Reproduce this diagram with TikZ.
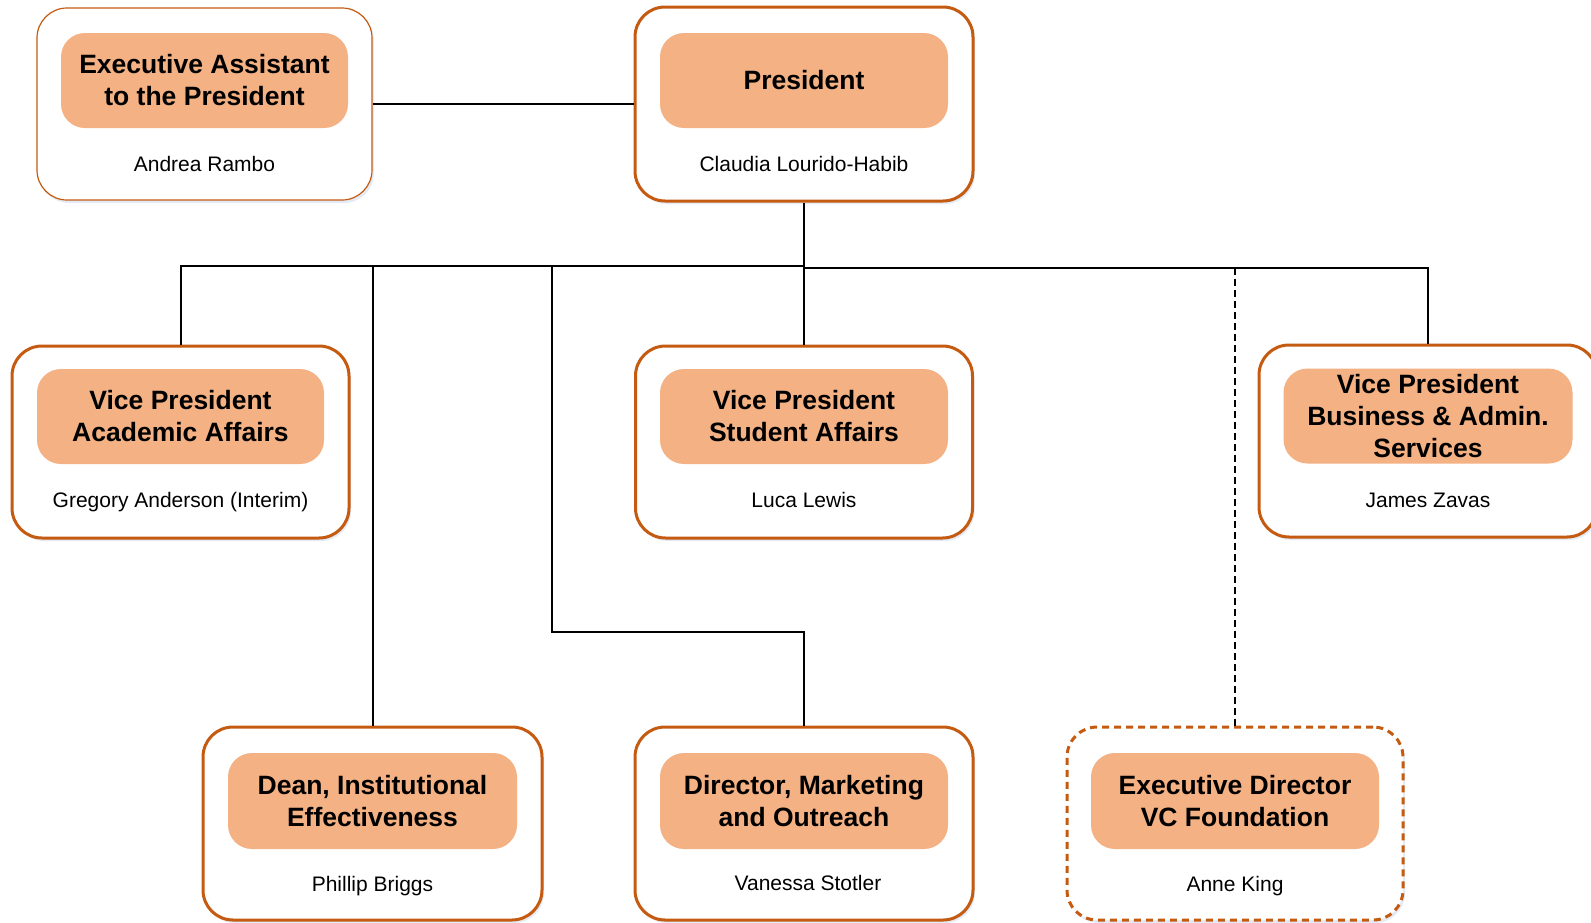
\documentclass[tikz,border=0pt]{standalone}
\usepackage{fontspec}
\setmainfont{Liberation Sans}
\usetikzlibrary{shadows}
\definecolor{orgline}{HTML}{C55A11}
\definecolor{orgfill}{HTML}{F4B183}
\definecolor{shadowc}{HTML}{D9E2F0}
\begin{document}
\begin{tikzpicture}[x=1pt,y=-1pt,
  outerbox/.style={draw=orgline, line width=3pt, rounded corners=30pt, fill=white,
    minimum width=337pt, minimum height=192pt, inner sep=0pt,
    drop shadow={shadow xshift=2pt, shadow yshift=-3pt, fill=shadowc, opacity=0.7}},
  thinbox/.style={outerbox, line width=1.2pt},
  dashbox/.style={outerbox, dash pattern=on 7pt off 5pt},
  titlebox/.style={fill=orgfill, rounded corners=24pt, minimum width=287pt, minimum height=95pt,
    inner sep=0pt, align=center, text=black, font=\fontsize{26.5}{32}\selectfont\bfseries},
  namelbl/.style={font=\fontsize{21}{25}\selectfont, text=black, inner sep=0pt,
    text height=15pt, text depth=5pt},
  conn/.style={draw=black, line width=2pt},
  dconn/.style={conn, dash pattern=on 7pt off 4pt}
]
\useasboundingbox (0,0) rectangle (1591,922);

% boxes
\node[thinbox, minimum width=335pt] (exec) at (204.5,104) {};
\node[titlebox] (execT) at (204.5,80.5) {Executive Assistant\\to the President};
\node[namelbl] (execN) at (204.5,166.5) {Andrea Rambo};

\node[outerbox, minimum width=338pt, minimum height=194pt] (pres) at (804,104) {};
\node[titlebox, minimum width=288pt] (presT) at (804,80.5) {President};
\node[namelbl] (presN) at (804,166.5) {Claudia Lourido-Habib};

\node[outerbox] (vpaa) at (180.5,442) {};
\node[titlebox] (vpaaT) at (180.5,416.5) {Vice President\\Academic Affairs};
\node[namelbl] (vpaaN) at (180.5,502.5) {Gregory Anderson (Interim)};

\node[outerbox] (vpsa) at (804,442) {};
\node[titlebox, minimum width=288pt] (vpsaT) at (804,416.5) {Vice President\\Student Affairs};
\node[namelbl] (vpsaN) at (804,502.5) {Luca Lewis};

\node[outerbox, minimum width=338pt] (vpbs) at (1428,441) {};
\node[titlebox, minimum width=289pt] (vpbsT) at (1428,416) {Vice President\\Business \& Admin.\\Services};
\node[namelbl] (vpbsN) at (1428,502.5) {James Zavas};

\node[outerbox, minimum width=339pt, minimum height=193pt] (dean) at (372.5,823.5) {};
\node[titlebox, minimum width=289pt, minimum height=96pt] (deanT) at (372.5,801) {Dean, Institutional\\Effectiveness};
\node[namelbl] (deanN) at (372.5,886.5) {Phillip Briggs};

\node[outerbox, minimum width=338pt, minimum height=193pt] (dir) at (804,823.5) {};
\node[titlebox, minimum width=288pt, minimum height=96pt] (dirT) at (804,801) {Director, Marketing\\and Outreach};
\node[namelbl] (dirN) at (808,885.5) {Vanessa Stotler};

\node[dashbox, minimum width=336pt, minimum height=193pt] (vcf) at (1235,823.5) {};
\node[titlebox, minimum width=288pt, minimum height=96pt] (vcfT) at (1235,801) {Executive Director\\VC Foundation};
\node[namelbl] (vcfN) at (1235,886.5) {Anne King};

% bus coordinates
\coordinate (busL) at (804,266);
\coordinate (busR) at (804,268);
\coordinate (dirTurn) at (552,632);

% connectors
\draw[conn] (exec.east) -- (pres.west);
\draw[conn] (pres.south) -- (vpsa.north);
\draw[conn] (vpaa.north) |- (busL);
\draw[conn] (dean.north) -- (dean.north |- busL);
\draw[conn] (dir.north) |- (dirTurn) -- (dirTurn |- busL);
\draw[conn] (busR) -| (vpbs.north);
\draw[dconn] (vcf.north) -- (vcf.north |- busR);
\end{tikzpicture}
\end{document}
